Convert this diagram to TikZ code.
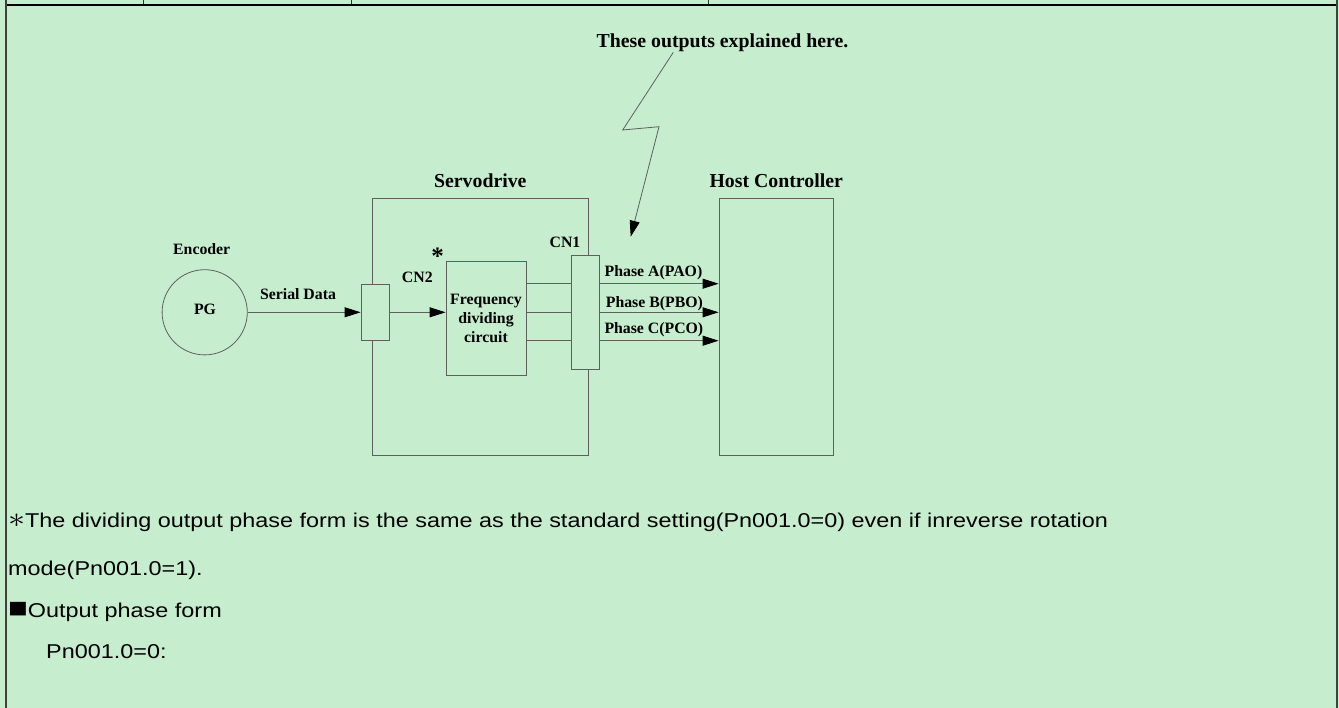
\documentclass[tikz,border=0pt]{standalone}
\usepackage{fontspec}
\setmainfont{Liberation Serif}
\newfontfamily\arialf{Liberation Sans}
\usetikzlibrary{arrows.meta,calc}
\definecolor{bg}{HTML}{C6EECE}
\definecolor{ln}{HTML}{5F5F5F}
\newcommand\myxs[1]{\scalebox{1.17}[1]{#1}}
\begin{document}
\begin{tikzpicture}[x=1pt,y=-1pt,
  box/.style={draw=ln,line width=0.8pt,inner sep=0pt},
  port/.style={box,fill=bg},
  arr/.style={draw=ln,line width=0.8pt,-{Triangle[length=16pt,width=10pt,color=black]}},
  wire/.style={draw=ln,line width=0.8pt},
  ttl/.style={font=\fontsize{19.8}{24}\selectfont\bfseries,inner sep=0pt,anchor=base},
  lbl/.style={font=\fontsize{15.8}{19}\selectfont\bfseries,inner sep=0pt,anchor=base},
  bt/.style={font=\arialf\fontsize{20}{24}\selectfont,inner sep=0pt,anchor=base west}]
\fill[bg] (0,0) rectangle (1339,708);
\useasboundingbox (0,0) rectangle (1339,708);
% table frame
\draw[line width=0.8pt,black!80] (143,0) -- (143,5.3) (351,0) -- (351,5.3) (708,0) -- (708,5.3);
\draw[line width=2pt,black] (5.7,5.3) -- (1337,5.3);
\draw[line width=1.8pt,black!75] (5.7,0) -- (5.7,708) (1337,0) -- (1337,708);
% boxes
\node[box,minimum width=216pt,minimum height=256.7pt] (servo) at (480.3,326.65) {};
\node[box,minimum width=114.3pt,minimum height=256.7pt] (host) at (776.15,326.65) {};
\node[box,minimum width=80pt,minimum height=114pt] (freq) at (486,318.3) {};
\node[port,minimum width=28.3pt,minimum height=56.7pt] (cn2) at (375.15,312.3) {};
\node[port,minimum width=28.4pt,minimum height=114pt] (cn1) at (585.5,312.3) {};
\node[draw=ln,line width=0.8pt,circle,minimum size=85.2pt,inner sep=0pt] (pg) at (204.7,312.3) {};
% connectors
\draw[arr] (pg.east) -- (cn2.west);
\draw[arr] (cn2.east) -- (cn2.east -| freq.west);
\coordinate (ya) at (0,283.7);
\coordinate (yb) at (0,312.3);
\coordinate (yc) at (0,340.7);
\foreach \k in {ya,yb,yc}{
  \draw[wire] (freq.east |- \k) -- (cn1.west |- \k);
  \draw[arr] (cn1.east |- \k) -- (host.west |- \k);
}
\coordinate (z0) at (673.3,52.3);
\coordinate (z1) at (622.7,130);
\coordinate (z2) at (659,126.7);
\coordinate (z3) at (630.7,236.7);
\draw[arr] (z0) -- (z1) -- (z2) -- (z3);
% labels
\node[ttl] (t0) at (722.5,47.7) {These outputs explained here.};
\node[ttl] (t1) at (480.3,187.3) {Servodrive};
\node[ttl] (t2) at (776.2,187.3) {Host Controller};
\node[lbl] (t3) at (201.7,255) {Encoder};
\node[lbl] (t4) at (205,315) {PG};
\node[lbl] (t5) at (298,300) {Serial Data};
\node[lbl] (t6) at (417.3,282.7) {CN2};
\node[lbl] (t7) at (565,248) {CN1};
\node[ttl,anchor=center,font=\fontsize{25}{28}\selectfont\bfseries] (t8) at (437.5,256) {*};
\node[lbl,anchor=center,align=center] (t9) at (freq.center) {Frequency\\dividing\\circuit};
\node[lbl,anchor=base west] (pa) at (604.5,276.3) {Phase A(PAO)};
\node[lbl,anchor=base west] (pb) at (605.7,307.7) {Phase B(PBO)};
\node[lbl,anchor=base west] (pc) at (604.3,333.3) {Phase C(PCO)};
% bottom text
\node[bt] (b1) at (8,527) {\myxs{\scalebox{1.4}{$\ast$}The dividing output phase form is the same as the standard setting(Pn001.0=0) even if inreverse rotation}};
\node[bt] (b2) at (8,575.5) {\myxs{mode(Pn001.0=1).}};
\node[bt] (b3) at (8,617) {\myxs{\scalebox{1.4}{■}Output phase form}};
\node[bt] (b4) at (46,658) {\myxs{Pn001.0=0:}};
\end{tikzpicture}
\end{document}
